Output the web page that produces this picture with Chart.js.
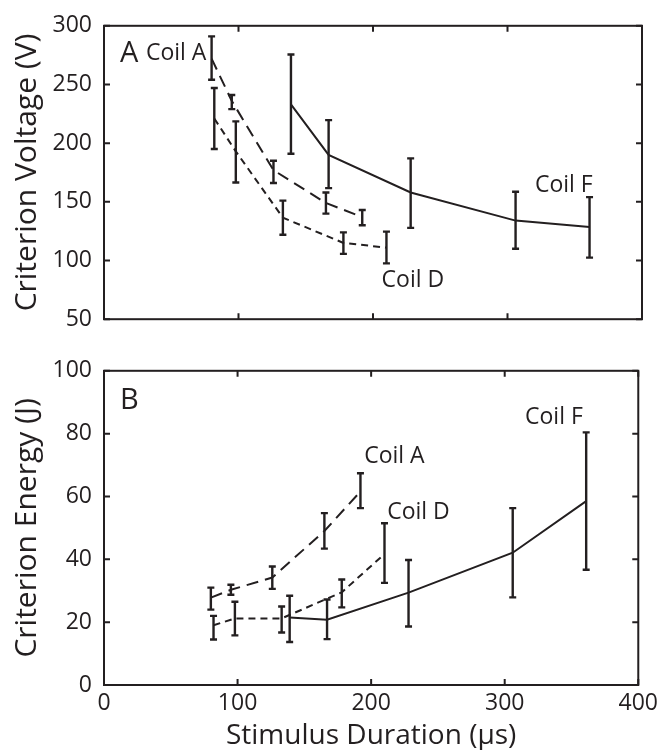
<!DOCTYPE html>
<html><head><meta charset="utf-8">
<script src="https://cdn.jsdelivr.net/npm/chart.js@4.4.0/dist/chart.umd.min.js"></script>
<style>
html,body{margin:0;padding:0;background:#fff;width:663px;height:750px;overflow:hidden}
canvas{position:absolute;left:0}
#c1{top:0}
#c2{top:345px}
</style></head>
<body>
<canvas id="c1" width="663" height="345"></canvas>
<canvas id="c2" width="663" height="405"></canvas>
<script>
// ---- data ----
const xTicks = [0, 100, 200, 300, 400];
const voltTicks = [50, 100, 150, 200, 250, 300];
const energyTicks = [0, 20, 40, 60, 80, 100];

const coilA_dur = [80, 95, 126, 165, 192];
const coilA_V   = [272, 236, 177, 149, 137];
const coilA_Vlo = [254, 229, 166, 140, 130];
const coilA_Vhi = [291, 241, 185, 158, 143];
const coilA_E   = [27.8, 30.3, 34.2, 49, 61.6];
const coilA_Elo = [24, 28.7, 30.6, 43.4, 56.3];
const coilA_Ehi = [31, 31.9, 37.7, 54.7, 67.4];

const coilD_dur = [82, 98, 133, 178, 210];
const coilD_V   = [221, 193, 136.5, 115, 111];
const coilD_Vlo = [195, 166.5, 122, 105.7, 97.6];
const coilD_Vhi = [247, 218.6, 151, 124, 124.6];
const coilD_E   = [19, 21.2, 21.2, 29.5, 41.7];
const coilD_Elo = [14.5, 15.8, 16.7, 24.7, 32.5];
const coilD_Ehi = [22, 26.5, 25, 33.6, 51.5];

const coilF_dur = [139, 167, 228, 306, 361];
const coilF_V   = [233, 190, 158, 134, 128.5];
const coilF_Vlo = [191, 161.7, 127.8, 110, 102.5];
const coilF_Vhi = [275.5, 219.6, 187, 158.6, 154];
const coilF_E   = [21.5, 20.8, 29.4, 42.1, 58.5];
const coilF_Elo = [13.7, 14.6, 18.6, 27.9, 36.7];
const coilF_Ehi = [28.4, 27.2, 39.8, 56.3, 80.4];

const FONT = "'Open Sans', 'Noto Sans', sans-serif";
const INK = '#231f20';

function pts(xs, ys){ return xs.map((x,i)=>({x:x, y:ys[i]})); }

function ds(label, xs, ys, lo, hi, dash){
  return {label, data: pts(xs, ys), errLo: lo, errHi: hi,
    borderColor:INK, borderWidth:2, borderDash: dash,
    pointRadius:0, fill:false, tension:0};
}

const frameTicks = {
  id:'frameTicks',
  afterDatasetsDraw(chart){
    const {ctx, chartArea:a, scales} = chart;
    ctx.save();
    ctx.strokeStyle = INK;
    // error bars
    chart.data.datasets.forEach((d)=>{
      ctx.lineWidth = 2.4;
      d.data.forEach((p,i)=>{
        const x = scales.x.getPixelForValue(p.x);
        const y1 = scales.y.getPixelForValue(d.errLo[i]);
        const y2 = scales.y.getPixelForValue(d.errHi[i]);
        ctx.beginPath();
        ctx.moveTo(x, y1); ctx.lineTo(x, y2);
        ctx.moveTo(x-3.5, y1); ctx.lineTo(x+3.5, y1);
        ctx.moveTo(x-3.5, y2); ctx.lineTo(x+3.5, y2);
        ctx.stroke();
      });
    });
    // frame
    ctx.lineWidth = 2;
    ctx.strokeRect(a.left, a.top, a.right-a.left, a.bottom-a.top);
    const L = 6;
    ctx.beginPath();
    scales.x.ticks.forEach(t=>{
      const x = scales.x.getPixelForValue(t.value);
      ctx.moveTo(x, a.bottom); ctx.lineTo(x, a.bottom-L);
      ctx.moveTo(x, a.top); ctx.lineTo(x, a.top+L);
    });
    scales.y.ticks.forEach(t=>{
      const y = scales.y.getPixelForValue(t.value);
      ctx.moveTo(a.left, y); ctx.lineTo(a.left+L, y);
      ctx.moveTo(a.right, y); ctx.lineTo(a.right-L, y);
    });
    ctx.stroke();
    // text labels
    const items = chart.options.plugins.frameTicks.labels || [];
    ctx.fillStyle = INK;
    ctx.textAlign = 'left';
    ctx.textBaseline = 'alphabetic';
    items.forEach(it=>{
      ctx.font = it.size + 'px ' + FONT;
      ctx.fillText(it.text, scales.x.getPixelForValue(it.x), scales.y.getPixelForValue(it.y));
    });
    ctx.restore();
  }
};

function makeChart(id, opts){
  return new Chart(document.getElementById(id), {
    type:'line',
    data:{datasets: opts.datasets},
    plugins:[frameTicks],
    options:{
      responsive:false, animation:false, devicePixelRatio:1,
      layout:{padding:{top:opts.padTop, right:21, left:0, bottom:0}},
      plugins:{legend:{display:false}, tooltip:{enabled:false},
        frameTicks:{labels: opts.labels}},
      scales:{
        x:{type:'linear', min:0, max:400,
          afterBuildTicks(s){ s.ticks = xTicks.map(v=>({value:v})); },
          afterFit(s){ s.height = opts.xHeight; },
          grid:{display:false, drawTicks:false}, border:{display:false},
          ticks:{display: opts.showX, padding:5, color:INK, font:{family:FONT, size:23}, maxRotation:0},
          title:{display: opts.showX, text:'Stimulus Duration (µs)', color:INK,
            font:{family:FONT, size:28, lineHeight:1}, padding:{top:0,bottom:0}}
        },
        y:{type:'linear', min:opts.yMin, max:opts.yMax,
          afterBuildTicks(s){ s.ticks = opts.yTicks.map(v=>({value:v})); },
          afterFit(s){ s.width = 104; },
          grid:{display:false, drawTicks:false}, border:{display:false},
          ticks:{padding:12, color:INK, font:{family:FONT, size:23}},
          title:{display:true, text:opts.yTitle, color:INK,
            font:{family:FONT, size:30, lineHeight:1}, padding:{top:12,bottom:0}}
        }
      }
    }
  });
}

makeChart('c1', {
  padTop:18, xHeight:10, showX:false, yMin:50, yMax:300, yTicks:voltTicks,
  yTitle:'Criterion Voltage (V)',
  datasets:[
    ds('Coil A', coilA_dur, coilA_V, coilA_Vlo, coilA_Vhi, [12,7]),
    ds('Coil D', coilD_dur, coilD_V, coilD_Vlo, coilD_Vhi, [7,5]),
    ds('Coil F', coilF_dur, coilF_V, coilF_Vlo, coilF_Vhi, [])
  ],
  labels:[
    {text:'A', x:11.9, y:269.2, size:29},
    {text:'Coil A', x:31.2, y:270.8, size:23},
    {text:'Coil D', x:206.4, y:77.2, size:23},
    {text:'Coil F', x:320.4, y:158.6, size:23}
  ]
});

makeChart('c2', {
  padTop:24, xHeight:65, showX:true, yMin:0, yMax:100, yTicks:energyTicks,
  yTitle:'Criterion Energy (J)',
  datasets:[
    ds('Coil A', coilA_dur, coilA_E, coilA_Elo, coilA_Ehi, [12,7]),
    ds('Coil D', coilD_dur, coilD_E, coilD_Elo, coilD_Ehi, [7,5]),
    ds('Coil F', coilF_dur, coilF_E, coilF_Elo, coilF_Ehi, [])
  ],
  labels:[
    {text:'B', x:11.9, y:87.8, size:29},
    {text:'Coil A', x:194.8, y:70.5, size:23},
    {text:'Coil D', x:212, y:52.8, size:23},
    {text:'Coil F', x:315.2, y:83.1, size:23}
  ]
});
</script>
</body></html>
